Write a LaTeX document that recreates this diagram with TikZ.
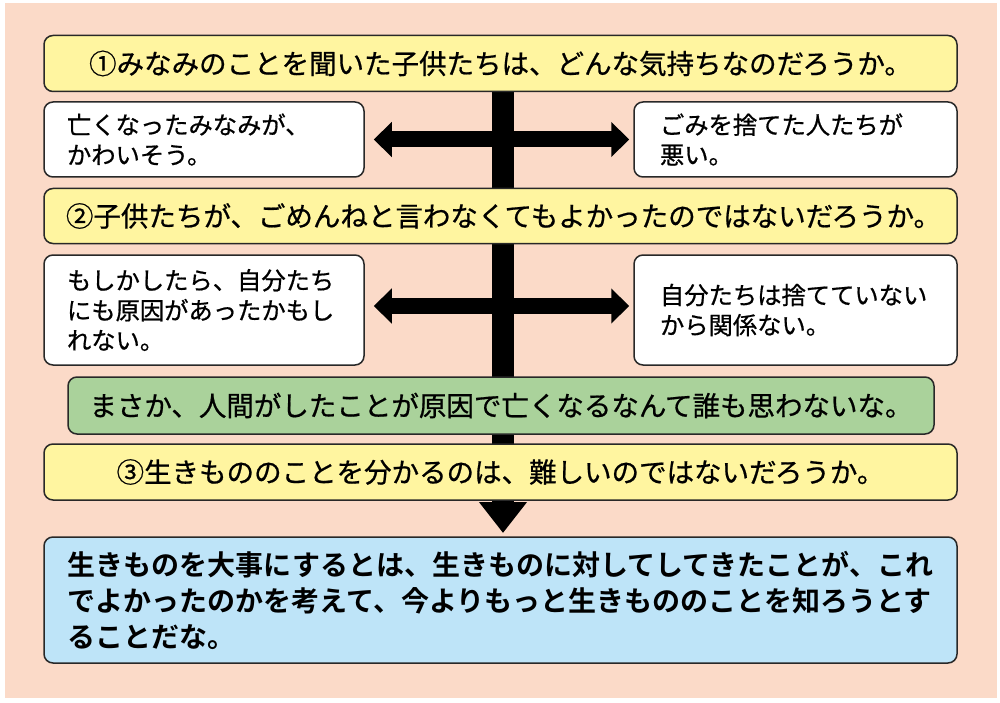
\documentclass[tikz,border=0pt]{standalone}
\usepackage{fontspec}
\usetikzlibrary{arrows.meta,calc}
\newfontfamily\jp{Noto Sans CJK JP}[FakeBold=0.7,BoldFont={Noto Sans CJK JP Bold},BoldFeatures={FakeBold=0}]
\definecolor{peach}{RGB}{251,218,200}
\definecolor{qyellow}{RGB}{255,245,160}
\definecolor{qgreen}{RGB}{170,210,155}
\definecolor{qblue}{RGB}{190,228,248}
\definecolor{edge}{RGB}{40,40,40}
\tikzset{
  box/.style={draw=edge, line width=1.5pt, rounded corners=9pt, inner sep=0pt},
  qbox/.style={box, fill=qyellow, minimum width=913pt, minimum height=56pt,
    font={\fontsize{27.5}{34}\selectfont\jp}},
  wbox/.style={box, fill=white, minimum height=75pt, align=left,
    font={\fontsize{24.3}{30}\selectfont\jp}},
  dblarrow/.style={line width=16pt, {Triangle[width=34pt,length=18pt]}-{Triangle[width=34pt,length=18pt]}},
}
\begin{document}
\begin{tikzpicture}[x=1pt,y=-1pt]
\useasboundingbox (0,0) rectangle (1000,703);
\fill[peach] (5,3) rectangle (997,698);

% vertical bar with arrow head (behind the boxes)
\coordinate (vtop) at (503,92);
\coordinate (vend) at (503,533);
\draw[line width=22pt, -{Triangle[width=46pt,length=31pt]}] (vtop) -- (vend);

% question boxes
\node[qbox] (q1) at (500.5,63.5) {①みなみのことを聞いた子供たちは、どんな気持ちなのだろうか。};
\node[qbox, minimum height=55pt] (q2) at (500.5,216) {\hspace*{6pt}②子供たちが、ごめんねと言わなくてもよかったのではないだろうか。};
\node[box, fill=qgreen, minimum width=866pt, minimum height=57pt,
  font={\fontsize{27.5}{34}\selectfont\jp}] (g) at (501,405.5) {まさか、人間がしたことが原因で亡くなるなんて誰も思わないな。};
\node[qbox] (q3) at (500.5,472) {③生きもののことを分かるのは、難しいのではないだろうか。};

% white boxes
\node[wbox, minimum width=320pt, text width=274pt, inner xsep=23pt] (wl1) at (204,139.5)
  {亡くなったみなみが、\\かわいそう。};
\node[wbox, minimum width=323pt, text width=271pt, inner xsep=26pt] (wr1) at (795.5,139.5)
  {ごみを捨てた人たちが\\悪い。};
\node[wbox, minimum width=320pt, minimum height=110pt, text width=274pt, inner xsep=23pt] (wl2) at (204,310)
  {もしかしたら、自分たち\\にも原因があったかもし\\れない。};
\node[wbox, minimum width=323pt, minimum height=110pt, text width=271pt, inner xsep=26pt] (wr2) at (795.5,310)
  {自分たちは捨てていない\\から関係ない。};

% conclusion box
\node[box, fill=qblue, minimum width=913pt, minimum height=126pt, align=left,
  font={\fontsize{28}{36}\selectfont\jp\bfseries}] (con) at (500.5,600)
  {生きものを大事にするとは、生きものに対してしてきたことが、これ\\
   でよかったのかを考えて、今よりもっと生きもののことを知ろうとす\\
   ることだな。};

% horizontal double arrows
\draw[dblarrow] ($(wl1.east)+(9,0)$) -- ($(wr1.west)+(-4,0)$);
\draw[dblarrow] ($(wl2.east)+(9,-4)$) -- ($(wr2.west)+(-4,-4)$);
\end{tikzpicture}
\end{document}
